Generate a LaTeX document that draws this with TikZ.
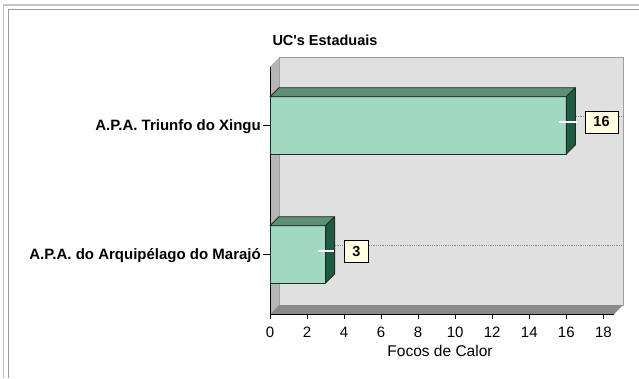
\documentclass[tikz,border=0pt]{standalone}
\usepackage{fontspec}
\setmainfont{Liberation Sans}[Ligatures=TeXOff]
\definecolor{framea}{HTML}{C4C4C4}
\definecolor{frameb}{HTML}{9C9C9C}
\definecolor{wallback}{HTML}{E0E0E0}
\definecolor{wallside}{HTML}{B6B6B6}
\definecolor{floorc}{HTML}{8A8A8A}
\definecolor{barfront}{HTML}{A0D8C2}
\definecolor{bartop}{HTML}{5F8F78}
\definecolor{barside}{HTML}{1F5A42}
\definecolor{barline}{HTML}{1A2E24}
\definecolor{lblfill}{HTML}{FFFFE0}
\definecolor{gridc}{HTML}{8C8C8C}
\tikzset{
  axisl/.style={black, line width=1pt},
  gridl/.style={gridc, line width=0.8pt, densely dotted},
  catlbl/.style={anchor=east, inner sep=0pt, font=\fontsize{15}{17}\selectfont\bfseries},
  ticklbl/.style={inner sep=0pt, font=\fontsize{15}{17}\selectfont},
  valbox/.style={draw=black, line width=1pt, fill=lblfill, minimum height=22pt, inner sep=0pt, font=\fontsize{14.5}{16}\selectfont\bfseries},
  barface/.style={draw=barline, line width=0.9pt, line join=round},
  leader/.style={white, line width=1.2pt}
}
\begin{document}
\begin{tikzpicture}[x=1pt,y=-1pt]
\useasboundingbox (0,0) rectangle (639,378);
\fill[white] (0,0) rectangle (639,378);
% frame
\draw[framea, line width=1.3pt] (3.5,378) -- (3.5,5) -- (639,5);
\draw[frameb, line width=1.3pt] (8.5,378) -- (8.5,9.5) -- (639,9.5);
% title
\node[inner sep=0pt, font=\fontsize{14.5}{16}\selectfont\bfseries] (title) at (325,40) {UC's Estaduais};
% back wall, side wall, floor
\filldraw[fill=wallback, draw=gray!75, line width=0.8pt] (279,57.5) rectangle (623,305);
\fill[wallside] (270,66.5) -- (279,57.5) -- (279,305) -- (270,314) -- cycle;
\fill[floorc] (270,314) -- (279,305) -- (623,305) -- (614,314) -- cycle;
% gridlines on back wall
\coordinate (g1a) at (279,116.5); \coordinate (g1b) at (623,116.5);
\coordinate (g2a) at (279,245.5); \coordinate (g2b) at (623,245.5);
\draw[gridl] (g1a) -- (g1b);
\draw[gridl] (g2a) -- (g2b);
% axes
\coordinate (yt) at (270,66.5);
\coordinate (o) at (270,314);
\coordinate (xe) at (614,314);
\draw[axisl] (yt) -- (o) -- (xe);
\foreach \v in {0,2,...,18} {
  \coordinate (t\v) at ({270+\v*18.52},314);
  \draw[axisl] (t\v) -- ++(0,4.5);
  \node[ticklbl] (n\v) at ({270+\v*18.52},332) {\v};
}
\node[ticklbl, font=\fontsize{15.5}{17}\selectfont] (xtitle) at (440,351) {Focos de Calor};
% bar 1 (16)
\filldraw[barface, fill=barfront] (270,96.7) rectangle (566.3,154);
\filldraw[barface, fill=bartop] (270,96.7) -- (279,87.7) -- (575.3,87.7) -- (566.3,96.7) -- cycle;
\filldraw[barface, fill=barside] (566.3,96.7) -- (575.3,87.7) -- (575.3,145) -- (566.3,154) -- cycle;
% bar 2 (3)
\filldraw[barface, fill=barfront] (270,225.7) rectangle (325.6,283);
\filldraw[barface, fill=bartop] (270,225.7) -- (279,216.7) -- (334.6,216.7) -- (325.6,225.7) -- cycle;
\filldraw[barface, fill=barside] (325.6,225.7) -- (334.6,216.7) -- (334.6,274) -- (325.6,283) -- cycle;
% category labels and ticks
\coordinate (c1a) at (263,125.5); \coordinate (c1b) at (270,125.5);
\coordinate (c2a) at (263,254.5); \coordinate (c2b) at (270,254.5);
\draw[axisl] (c1a) -- (c1b);
\draw[axisl] (c2a) -- (c2b);
\node[catlbl] (cat1) at (261,127) {A.P.A. Triunfo do Xingu};
\node[catlbl] (cat2) at (261,256) {A.P.A. do Arquipélago do Marajó};
% value labels
\coordinate (l1a) at (559,122); \coordinate (l1b) at (577,122);
\coordinate (l2a) at (318,251); \coordinate (l2b) at (333.5,251);
\draw[leader] (l1a) -- (l1b);
\draw[leader] (l2a) -- (l2b);
\node[valbox, minimum width=33pt] (v1) at (601.5,122) {16};
\node[valbox, minimum width=24pt] (v2) at (356.3,251.5) {3};
\end{tikzpicture}
\end{document}
